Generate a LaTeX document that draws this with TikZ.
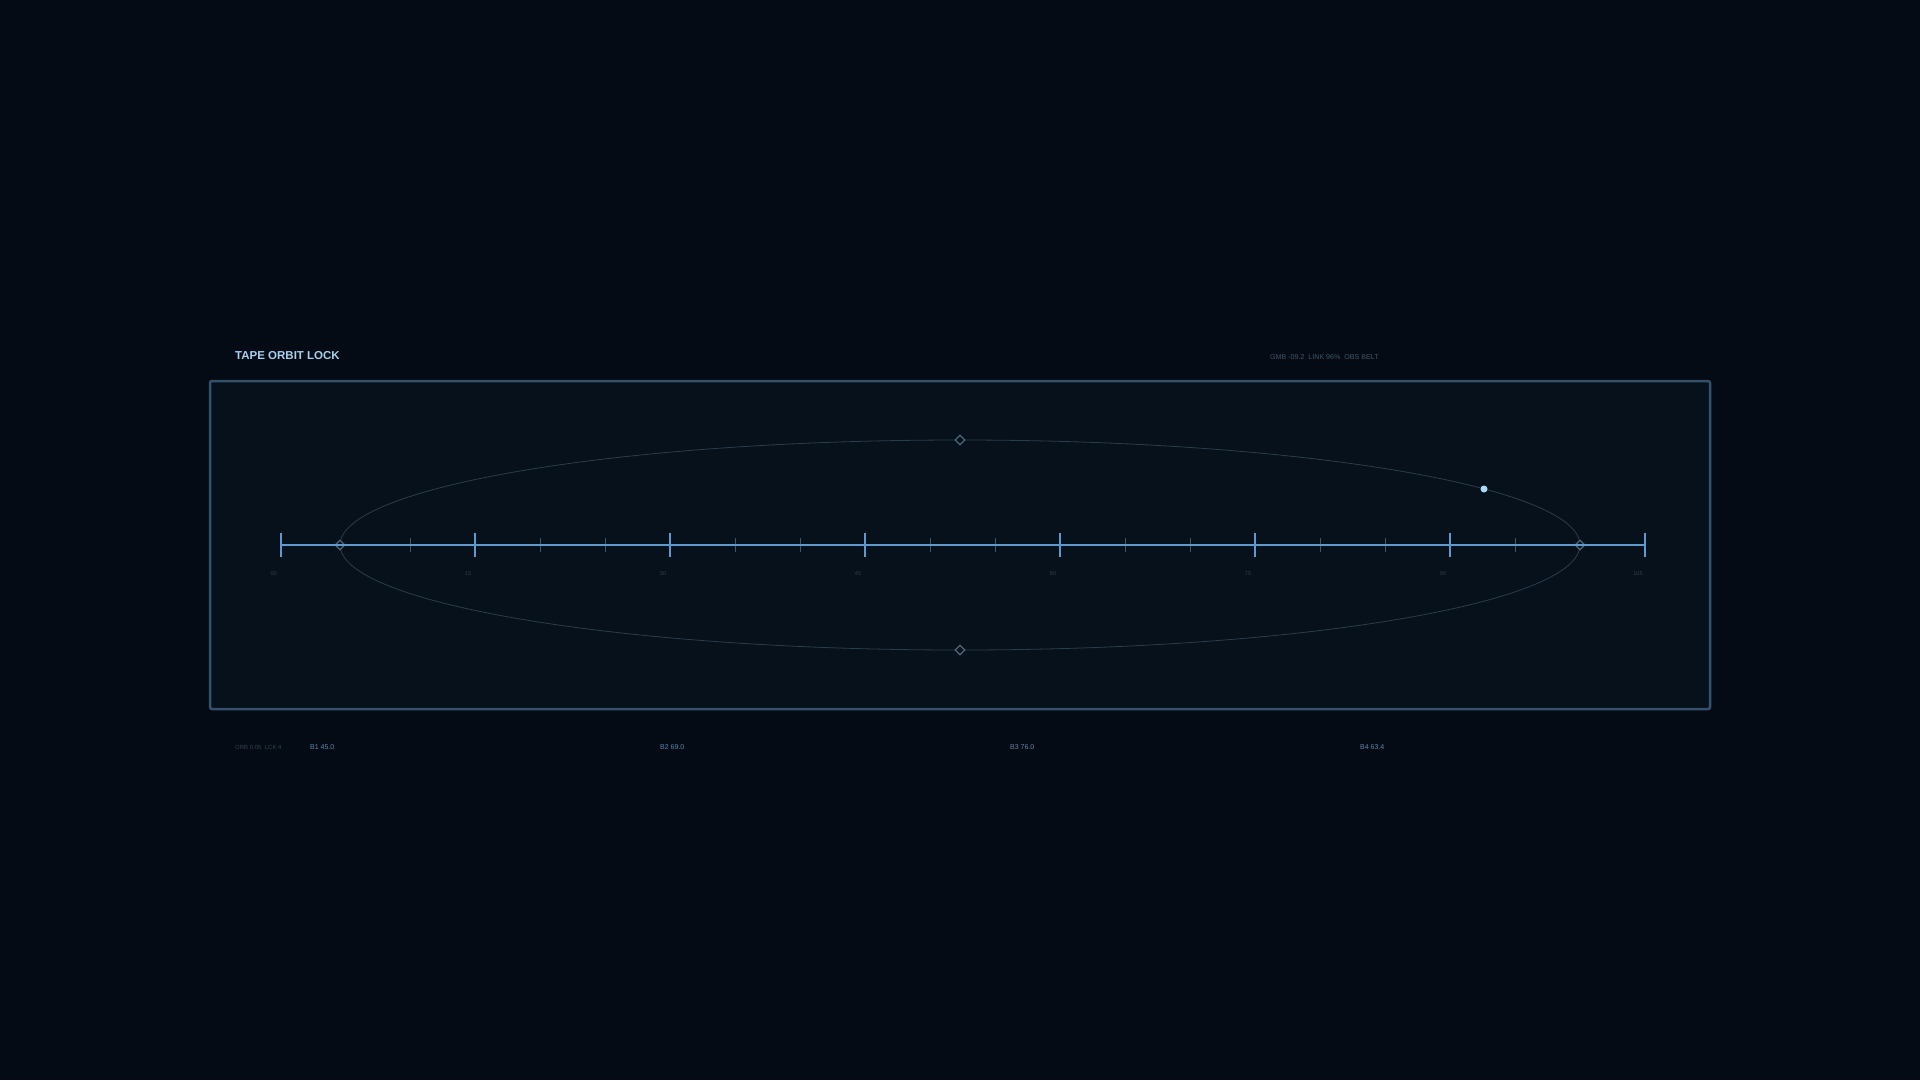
\documentclass[tikz,border=0pt]{standalone}
\usepackage{fontspec}
\setmainfont{Liberation Sans}
\usetikzlibrary{shapes.geometric}
\definecolor{bgcol}{HTML}{050B14}
\definecolor{panelfill}{HTML}{07111B}
\definecolor{panelline}{HTML}{34516B}
\definecolor{axiscol}{HTML}{5E9AD0}
\definecolor{minorcol}{HTML}{3C5870}
\definecolor{orbitcol}{HTML}{2A3D4D}
\definecolor{vertexcol}{HTML}{4D667A}
\definecolor{dotcol}{HTML}{A8DAFA}
\definecolor{titlecol}{HTML}{A6D0EE}
\definecolor{metacol}{HTML}{3E5568}
\definecolor{dimcol}{HTML}{2E4252}
\definecolor{bandcol}{HTML}{5A87AD}
\definecolor{scalecol}{HTML}{2E4050}
\tikzset{
  title/.style={anchor=west,inner sep=0pt,text=titlecol,font=\fontsize{11.5}{12}\selectfont\bfseries},
  meta/.style={anchor=west,inner sep=0pt,text=metacol,font=\fontsize{7.1}{8}\selectfont},
  band/.style={anchor=west,inner sep=0pt,text=bandcol,font=\fontsize{7}{8}\selectfont},
  scalelabel/.style={inner sep=0pt,text=scalecol,font=\fontsize{5.5}{6}\selectfont},
  vertex/.style={diamond,draw=vertexcol,line width=1.2pt,fill=panelfill,inner sep=0pt,minimum size=10pt},
  major/.style={draw=axiscol,line width=1.8pt},
  minor/.style={draw=minorcol,line width=1pt},
}
\begin{document}
\begin{tikzpicture}[x=1pt,y=-1pt]
      \useasboundingbox[fill=bgcol] (0,0) rectangle (1920,1080);
      \draw[panelline,line width=2.5pt,fill=panelfill,rounded corners=2pt]
        (210,381) rectangle (1710,709);
      \node[title] (title) at (235,356) {TAPE ORBIT LOCK};
      \node[meta] (meta) at (1270,357.5) {GMB -09.2\ \ LINK 96\%\ \ OBS BELT};
      % scale points
      \path
        (280.7,545) coordinate (t0)
        (475,545) coordinate (t1)
        (670,545) coordinate (t2)
        (865,545) coordinate (t3)
        (1060,545) coordinate (t4)
        (1255,545) coordinate (t5)
        (1450,545) coordinate (t6)
        (1645,545) coordinate (t7);
      \path
        (410,545) coordinate (m0)
        (540,545) coordinate (m1)
        (605,545) coordinate (m2)
        (735,545) coordinate (m3)
        (800,545) coordinate (m4)
        (930,545) coordinate (m5)
        (995,545) coordinate (m6)
        (1125,545) coordinate (m7)
        (1190,545) coordinate (m8)
        (1320,545) coordinate (m9)
        (1385,545) coordinate (m10)
        (1515,545) coordinate (m11);
      \begin{scope}[minor]
        \draw ([yshift=-7pt]m0) -- ([yshift=7pt]m0);
        \draw ([yshift=-7pt]m1) -- ([yshift=7pt]m1);
        \draw ([yshift=-7pt]m2) -- ([yshift=7pt]m2);
        \draw ([yshift=-7pt]m3) -- ([yshift=7pt]m3);
        \draw ([yshift=-7pt]m4) -- ([yshift=7pt]m4);
        \draw ([yshift=-7pt]m5) -- ([yshift=7pt]m5);
        \draw ([yshift=-7pt]m6) -- ([yshift=7pt]m6);
        \draw ([yshift=-7pt]m7) -- ([yshift=7pt]m7);
        \draw ([yshift=-7pt]m8) -- ([yshift=7pt]m8);
        \draw ([yshift=-7pt]m9) -- ([yshift=7pt]m9);
        \draw ([yshift=-7pt]m10) -- ([yshift=7pt]m10);
        \draw ([yshift=-7pt]m11) -- ([yshift=7pt]m11);
      \end{scope}
      \begin{scope}[scalelabel]
        \node (l0) at (273.7,574) {00};
        \node (l1) at (468,574) {15};
        \node (l2) at (663,574) {30};
        \node (l3) at (858,574) {45};
        \node (l4) at (1053,574) {60};
        \node (l5) at (1248,574) {75};
        \node (l6) at (1443,574) {90};
        \node (l7) at (1638,574) {105};
      \end{scope}
      % orbit
      \coordinate (orbc) at (960,545);
      \draw[orbitcol,line width=0.8pt] (orbc) ellipse [x radius=620pt,y radius=105pt];
      \draw
        (960,440) node[vertex] (top){}
        (960,650) node[vertex] (bot){}
        (340,545) node[vertex] (lft){}
        (1580,545) node[vertex] (rgt){};
      \draw[major] (t0) -- (t7);
      \begin{scope}[major]
        \draw ([yshift=-12pt]t0) -- ([yshift=12pt]t0);
        \draw ([yshift=-12pt]t1) -- ([yshift=12pt]t1);
        \draw ([yshift=-12pt]t2) -- ([yshift=12pt]t2);
        \draw ([yshift=-12pt]t3) -- ([yshift=12pt]t3);
        \draw ([yshift=-12pt]t4) -- ([yshift=12pt]t4);
        \draw ([yshift=-12pt]t5) -- ([yshift=12pt]t5);
        \draw ([yshift=-12pt]t6) -- ([yshift=12pt]t6);
        \draw ([yshift=-12pt]t7) -- ([yshift=12pt]t7);
      \end{scope}
      \node[circle,fill=dotcol,inner sep=0pt,minimum size=7pt] (probe) at (1484,489) {};
      % readouts
      \node[meta,text=dimcol,font=\fontsize{6}{7}\selectfont] (orb) at (235,747) {ORB 0.05\ \ LCK 4};
      \draw
        (310,747) node[band] (b1){B1 45.0}
        (660,747) node[band] (b2){B2 69.0}
        (1010,747) node[band] (b3){B3 76.0}
        (1360,747) node[band] (b4){B4 63.4};
    \end{tikzpicture}
\end{document}
